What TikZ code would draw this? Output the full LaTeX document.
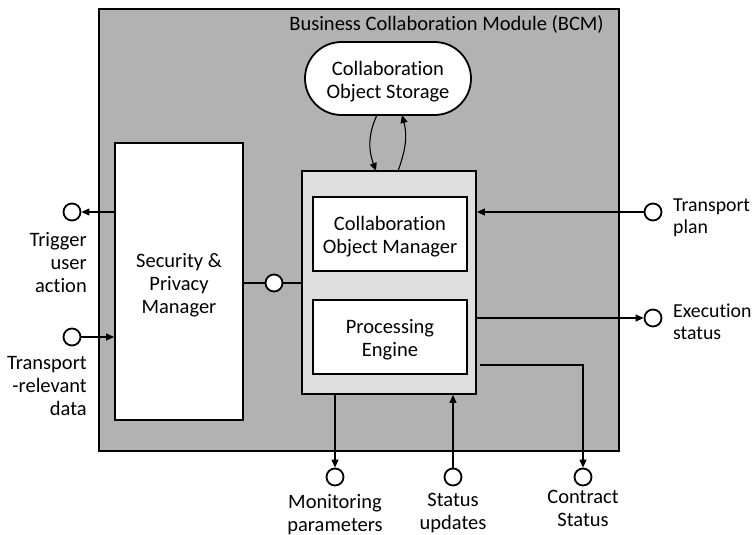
\documentclass[tikz,border=0pt]{standalone}
\usepackage{fontspec}
\setmainfont[Ligatures=CommonOff]{Carlito}
\usetikzlibrary{arrows.meta,positioning,calc}
\begin{document}
\begin{tikzpicture}[x=1pt,y=-1pt,
  every node/.style={font=\fontsize{20.5}{22.8}\selectfont},
  box/.style={draw,line width=1.8pt,fill=white,inner sep=0pt},
  port/.style={circle,draw,line width=1.8pt,fill=white,minimum size=17pt,inner sep=0pt},
  lbl/.style={align=center,inner sep=0pt},
  conn/.style={line width=1.1pt},
  arr/.style={conn,-{Triangle[length=8pt,width=7pt]}}
]
\useasboundingbox (0,0) rectangle (752,535);
% main module
\node[draw,line width=2.4pt,fill=black!30,minimum width=520pt,minimum height=442pt,inner sep=0pt,anchor=north west] (bcm) at (98,8) {};
\node[anchor=base east,inner sep=0pt] (title) at (604,31) {Business Collaboration Module (BCM)};
% storage
\node[box,rounded corners=36.5pt,minimum width=166pt,minimum height=73pt] (store) at (388,78.5) {};
\node[lbl,anchor=base] (storet) at (388,98) {Collaboration\\Object Storage};
% inner box
\node[draw,line width=1.8pt,fill=black!13,minimum width=174pt,minimum height=223pt,inner sep=0pt] (inner) at (389,282.5) {};
\node[box,minimum width=154pt,minimum height=74pt] (com) at (390,234) {};
\node[lbl,anchor=base] (comt) at (390,253) {Collaboration\\Object Manager};
\node[box,minimum width=154pt,minimum height=74pt] (pe) at (390,337) {};
\node[lbl,anchor=base] (pet) at (390,356) {Processing\\Engine};
% security
\node[box,minimum width=128pt,minimum height=277pt] (sec) at (179,281.5) {};
\node[lbl,anchor=base] (sect) at (179,313) {Security \&\\Privacy\\Manager};
\node[port] (mid) at (274,283) {};
\draw[conn] (sec.east |- mid) -- (mid);
\draw[conn] (mid) -- (inner.west |- mid);
% storage arrows
\coordinate (s1) at (377,115);
\coordinate (i1) at (376,171);
\coordinate (i2) at (398,171);
\coordinate (s2) at (402,115);
\draw[arr] (s1) to[out=245,in=110] (i1);
\draw[arr] (i2) to[out=70,in=285] (s2);
% left ports
\node[port] (trig) at (72,212) {};
\node[lbl,anchor=base east,align=right] (trigl) at (87,292) {Trigger\\user\\action};
\draw[arr] (sec.west |- trig) -- (trig);
\node[port] (trd) at (72,337) {};
\node[lbl,anchor=base east,align=right] (trdl) at (87,415) {Transport\\-relevant\\data};
\draw[arr] (trd) -- (sec.west |- trd);
% right ports
\node[port] (tp) at (653,212) {};
\node[lbl,anchor=base west,align=left,font=\fontsize{19.8}{22}\selectfont] (tpl) at (673,233) {Transport\\plan};
\draw[arr] (tp) -- (inner.east |- tp);
\node[port] (es) at (653,318) {};
\node[lbl,anchor=base west,align=left,font=\fontsize{19.8}{22}\selectfont] (esl) at (673,339) {Execution\\status};
\draw[arr] (inner.east |- es) -- (es);
% bottom ports
\node[port] (mon) at (335,477) {};
\node[lbl,anchor=base] (monl) at (335,531) {Monitoring\\parameters};
\draw[arr] (inner.south -| mon) -- (mon);
\node[port] (su) at (453,477) {};
\node[lbl,anchor=base] (sul) at (453,529.5) {Status\\updates};
\draw[arr] (su) -- (inner.south -| su);
\node[port] (cs) at (583,477) {};
\node[lbl,anchor=base] (csl) at (583,526) {Contract\\Status};
\coordinate (cstart) at (480,365);
\draw[arr] (cstart) -| (cs);
\end{tikzpicture}
\end{document}
